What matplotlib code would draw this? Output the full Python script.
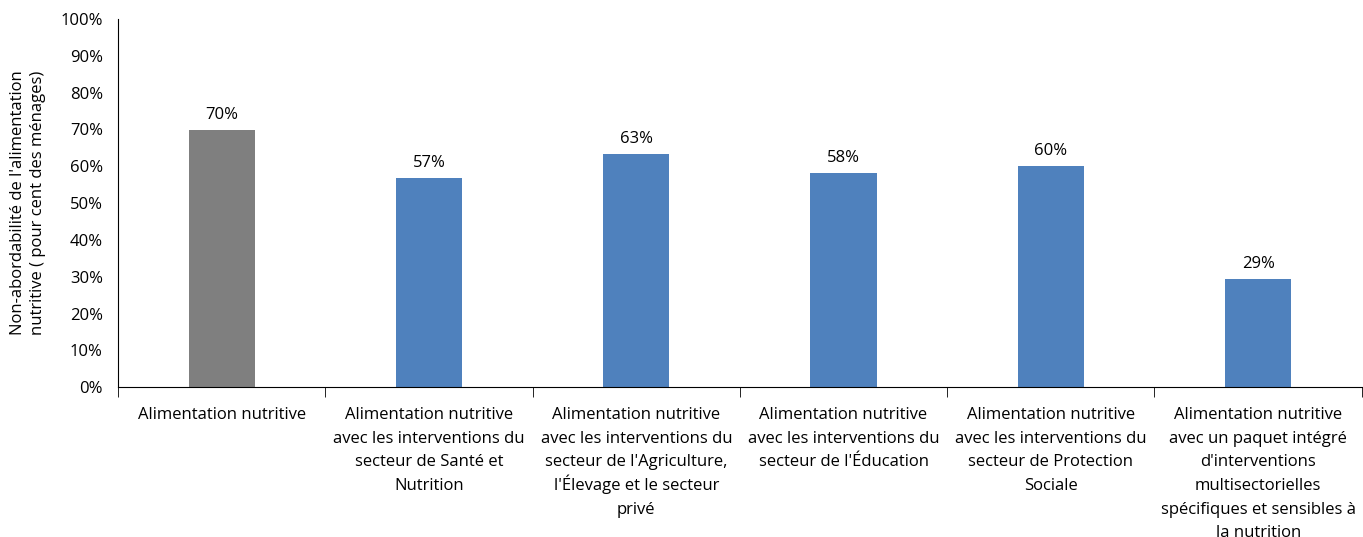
import matplotlib
matplotlib.use("Agg")
import matplotlib.pyplot as plt
from matplotlib.ticker import PercentFormatter, FixedLocator
import numpy as np

categories = [
    "Alimentation nutritive",
    "Alimentation nutritive\navec les interventions du\nsecteur de Santé et\nNutrition",
    "Alimentation nutritive\navec les interventions du\nsecteur de l'Agriculture,\nl'Élevage et le secteur\nprivé",
    "Alimentation nutritive\navec les interventions du\nsecteur de l'Éducation",
    "Alimentation nutritive\navec les interventions du\nsecteur de Protection\nSociale",
    "Alimentation nutritive\navec un paquet intégré\nd'interventions\nmultisectorielles\nspécifiques et sensibles à\nla nutrition",
]
values = [69.8, 56.8, 63.3, 58.2, 60.1, 29.3]
colors = ["#7f7f7f", "#4f81bd", "#4f81bd", "#4f81bd", "#4f81bd", "#4f81bd"]
ylabel = "Non-abordabilité de l'alimentation\nnutritive ( pour cent des ménages)"

plt.rcParams['font.family'] = ['Open Sans', 'DejaVu Sans']

fig = plt.figure(figsize=(13.63, 5.37), dpi=100)
ax = fig.add_axes([0.0866, 0.279, 0.9125, 0.6856])

x = np.arange(len(categories))
bars = ax.bar(x, values, width=0.32, color=colors)
for xi, v in zip(x, values):
    ax.text(xi, v + 2.0, f"{round(v)}%", ha="center", va="bottom", fontsize=12)

ax.set_xlim(-0.5, len(categories) - 0.5)
ax.set_ylim(0, 100)
ax.set_yticks(np.arange(0, 101, 10))
ax.yaxis.set_major_formatter(PercentFormatter(decimals=0))
ax.tick_params(axis="y", length=0, labelsize=12, pad=11)

# category labels: one line at a time so baselines stay evenly spaced
ax.set_xticks([])
for xi, label in zip(x, categories):
    for i, line in enumerate(label.split("\n")):
        ax.annotate(line, xy=(xi, 0), xycoords=ax.get_xaxis_transform(),
                    xytext=(0, -23 - 17 * i), textcoords="offset points",
                    ha="center", va="baseline", fontsize=12)
ax.xaxis.set_minor_locator(FixedLocator(np.arange(-0.5, len(categories), 1.0)))
ax.tick_params(axis="x", which="minor", length=7, direction="out", color="black")

for s in ["top", "right"]:
    ax.spines[s].set_visible(False)
ax.spines["left"].set_color("black")
ax.spines["bottom"].set_color("black")

ax.set_ylabel(ylabel, fontsize=12, linespacing=1.4, labelpad=10)

fig.savefig("out.png", dpi=100)
